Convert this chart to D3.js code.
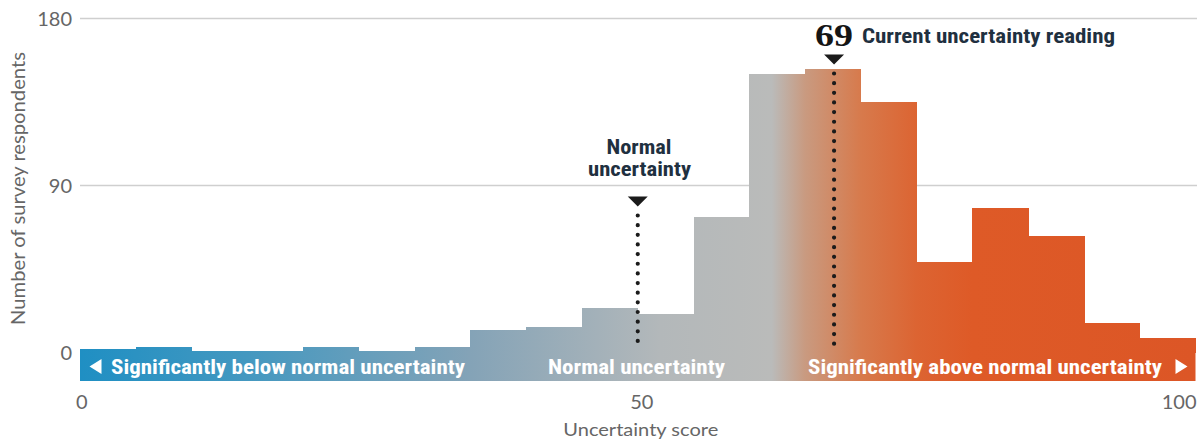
<!DOCTYPE html>
<html>
<head>
<meta charset="utf-8">
<script src="https://cdn.jsdelivr.net/npm/d3@7"></script>
<style>
  html, body { margin: 0; padding: 0; background: #fff; }
  svg { display: block; }
  .cond { font-family: 'Liberation Sans Narrow', 'Roboto Condensed', 'DejaVu Sans Condensed', 'Noto Sans', sans-serif; font-weight: bold; font-stretch: condensed; }
  .tick { font-family: Lato, 'Open Sans', sans-serif; font-weight: 400; fill: #666; }
</style>
</head>
<body>
<svg id="chart" width="1197" height="440"></svg>
<script>
// ---- data ----
const binStarts = [0,5,10,15,20,25,30,35,40,45,50,55,60,65,70,75,80,85,90,95];
const binWidth = 5;
const respondents = [2,3,1,1,3,1,3,12,14,24,21,73,150,153,135,49,78,63,16,8];
const yTicks = [0, 90, 180];
const xTicks = [0, 50, 100];
const normalValue = 50;
const currentReading = 69;
const currentMarkerPos = 67.6;   // where the marker is drawn on the score axis
const stripLabels = ["Significantly below normal uncertainty", "Normal uncertainty", "Significantly above normal uncertainty"];
const gradientStops = [
  {v: 0, c: "#1f8fc3"},
  {v: 15, c: "#4498c0"},
  {v: 35, c: "#84a3b7"},
  {v: 52, c: "#b3b8ba"},
  {v: 62, c: "#babbba"},
  {v: 65, c: "#c99a80"},
  {v: 70, c: "#d77a4c"},
  {v: 75, c: "#dc6432"},
  {v: 80, c: "#de5a27"},
  {v: 100, c: "#dc5626"}
];

// ---- layout ----
const svg = d3.select("#chart");
const x = d3.scaleLinear().domain([0, 100]).range([80, 1195.5]);
const y = d3.scaleLinear().domain([0, 180]).range([352.5, 18.5]);

// gradient
const defs = svg.append("defs");
const grad = defs.append("linearGradient")
  .attr("id", "scoreGrad")
  .attr("gradientUnits", "userSpaceOnUse")
  .attr("x1", x(0)).attr("x2", x(100)).attr("y1", 0).attr("y2", 0);
grad.selectAll("stop").data(gradientStops).join("stop")
  .attr("offset", d => d.v / 100)
  .attr("stop-color", d => d.c);

// gridlines
svg.append("g").selectAll("line").data(yTicks.filter(d => d > 0)).join("line")
  .attr("x1", x(0)).attr("x2", 1197)
  .attr("y1", d => y(d)).attr("y2", d => y(d))
  .attr("stroke", "#cfcfcf").attr("stroke-width", 1.5);

// bars
svg.append("g").attr("shape-rendering", "crispEdges")
  .selectAll("rect").data(binStarts).join("rect")
  .attr("x", d => x(d))
  .attr("width", d => x(d + binWidth) - x(d) + 0.6)
  .attr("y", (d, i) => y(respondents[i]))
  .attr("height", (d, i) => y(0) - y(respondents[i]))
  .attr("fill", "url(#scoreGrad)");

// strip
const stripTop = 351, stripBot = 381;
svg.append("rect")
  .attr("x", x(0)).attr("width", x(100) - x(0))
  .attr("y", stripTop).attr("height", stripBot - stripTop)
  .attr("fill", "url(#scoreGrad)");

// strip labels
const stripMidY = (stripTop + stripBot) / 2 + 0.5;
svg.append("path")
  .attr("d", `M${x(0)+9.5},${stripMidY} L${x(0)+21.5},${stripMidY-7.5} L${x(0)+21.5},${stripMidY+7.5} Z`)
  .attr("fill", "#fff");
svg.append("path")
  .attr("d", `M${x(100)-8},${stripMidY} L${x(100)-20},${stripMidY-7.5} L${x(100)-20},${stripMidY+7.5} Z`)
  .attr("fill", "#fff");
svg.append("text").attr("class", "cond")
  .attr("x", 111).attr("y", 374).attr("font-size", 21).attr("fill", "#fff")
  .attr("textLength", 354).attr("lengthAdjust", "spacingAndGlyphs")
  .text(stripLabels[0]);
svg.append("text").attr("class", "cond")
  .attr("x", 548).attr("y", 374).attr("font-size", 21).attr("fill", "#fff")
  .attr("textLength", 177).attr("lengthAdjust", "spacingAndGlyphs")
  .text(stripLabels[1]);
svg.append("text").attr("class", "cond")
  .attr("x", 808).attr("y", 374).attr("font-size", 21).attr("fill", "#fff")
  .attr("textLength", 354).attr("lengthAdjust", "spacingAndGlyphs")
  .text(stripLabels[2]);

// y tick labels
svg.append("g").selectAll("text").data(yTicks).join("text")
  .attr("class", "tick")
  .attr("x", 72).attr("y", d => y(d) + 7.5)
  .attr("text-anchor", "end").attr("font-size", 20)
  .text(d => d);

// x tick labels
svg.append("g").selectAll("text").data(xTicks).join("text")
  .attr("class", "tick")
  .attr("x", d => d === 0 ? x(d) - 4 : d === 100 ? x(d) + 1 : x(d) + 4)
  .attr("y", 409)
  .attr("text-anchor", d => d === 0 ? "start" : d === 100 ? "end" : "middle")
  .attr("font-size", 20)
  .text(d => d);

// axis titles
svg.append("text").attr("class", "tick")
  .attr("x", x(50) + 3).attr("y", 436).attr("text-anchor", "middle")
  .attr("font-size", 18)
  .attr("textLength", 155).attr("lengthAdjust", "spacingAndGlyphs")
  .text("Uncertainty score");
svg.append("text").attr("class", "tick")
  .attr("transform", "translate(25,188.5) rotate(-90)")
  .attr("text-anchor", "middle").attr("font-size", 19)
  .attr("textLength", 273).attr("lengthAdjust", "spacingAndGlyphs")
  .text("Number of survey respondents");

// markers
function marker(xv, triTop, dotTop, dotBot) {
  const cx = x(xv);
  svg.append("line")
    .attr("x1", cx).attr("x2", cx).attr("y1", dotTop).attr("y2", dotBot)
    .attr("stroke", "#1b1b1b").attr("stroke-width", 4.2)
    .attr("stroke-linecap", "round").attr("stroke-dasharray", "0 9.65");
  svg.append("path")
    .attr("d", `M${cx-10},${triTop} L${cx+10},${triTop} L${cx},${triTop+10} Z`)
    .attr("fill", "#1b1b1b");
}
marker(normalValue, 196.5, 215.5, 350);
marker(currentMarkerPos, 54.5, 73.5, 346);

// annotations
svg.append("text").attr("class", "cond")
  .attr("x", 639).attr("y", 153.5).attr("text-anchor", "middle")
  .attr("font-size", 20).attr("fill", "#1f3040")
  .attr("textLength", 65).attr("lengthAdjust", "spacingAndGlyphs")
  .text("Normal");
svg.append("text").attr("class", "cond")
  .attr("x", 639.5).attr("y", 175.5).attr("text-anchor", "middle")
  .attr("font-size", 20).attr("fill", "#1f3040")
  .attr("textLength", 103).attr("lengthAdjust", "spacingAndGlyphs")
  .text("uncertainty");

svg.append("text")
  .attr("x", 815).attr("y", 46)
  .attr("font-family", "'Liberation Serif', 'DejaVu Serif', serif")
  .attr("font-weight", "bold").attr("font-size", 31).attr("fill", "#151515")
  .attr("textLength", 38).attr("lengthAdjust", "spacingAndGlyphs")
  .text(currentReading);
svg.append("text").attr("class", "cond")
  .attr("x", 862).attr("y", 42.5)
  .attr("font-size", 20).attr("fill", "#1f3040")
  .attr("textLength", 253).attr("lengthAdjust", "spacingAndGlyphs")
  .text("Current uncertainty reading");
</script>
</body>
</html>
